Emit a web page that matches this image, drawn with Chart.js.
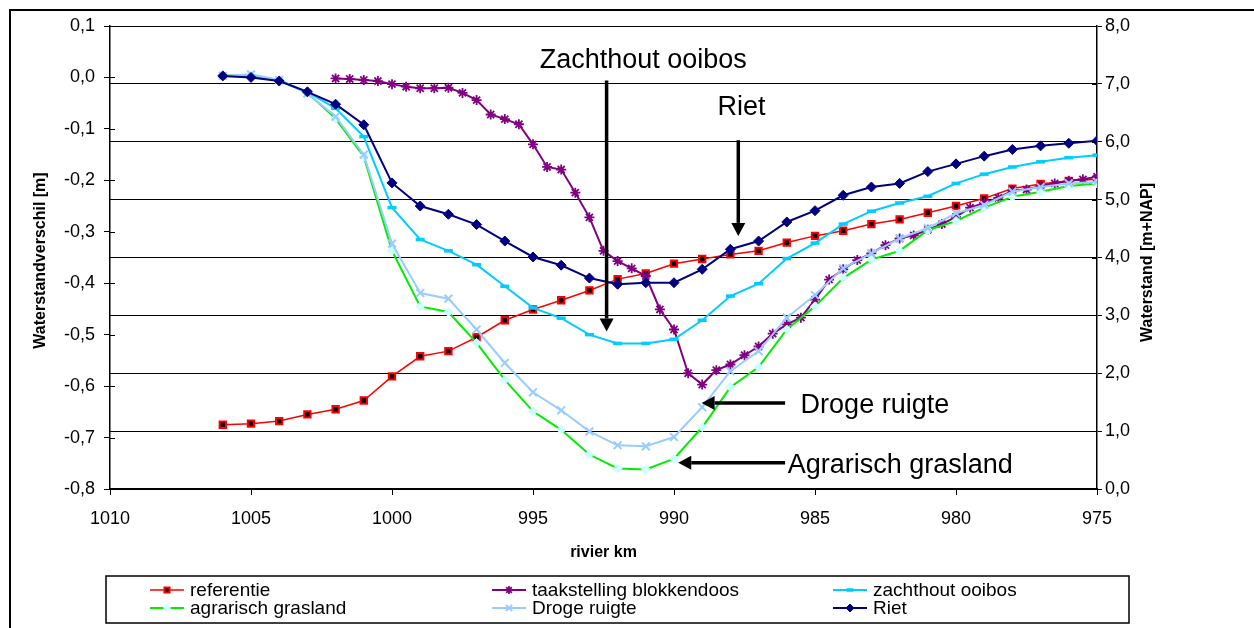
<!DOCTYPE html>
<html>
<head>
<meta charset="utf-8">
<script src="https://cdn.jsdelivr.net/npm/chart.js@4.4.1/dist/chart.umd.min.js"></script>
<style>
  html, body { margin: 0; padding: 0; background: #fff; }
</style>
</head>
<body>
<canvas id="waterChart" width="1254" height="628"></canvas>
<script>
const FONT = "'Liberation Sans', Arial, sans-serif";

// rivier km (whole km) and half-km steps for taakstelling
const kmSteps = [1006, 1005, 1004, 1003, 1002, 1001, 1000, 999, 998, 997, 996, 995, 994, 993, 992, 991,
  990, 989, 988, 987, 986, 985, 984, 983, 982, 981, 980, 979, 978, 977, 976, 975];
const kmHalf = [1002, 1001.5, 1001, 1000.5, 1000, 999.5, 999, 998.5, 998, 997.5, 997, 996.5, 996, 995.5,
  995, 994.5, 994, 993.5, 993, 992.5, 992, 991.5, 991, 990.5, 990, 989.5, 989, 988.5, 988, 987.5, 987,
  986.5, 986, 985.5, 985, 984.5, 984, 983.5, 983, 982.5, 982, 981.5, 981, 980.5, 980, 979.5, 979, 978.5,
  978, 977.5, 977, 976.5, 976, 975.5, 975];

const referentie = [-0.675, -0.673, -0.668, -0.655, -0.645, -0.628, -0.581, -0.542, -0.532,
  -0.505, -0.472, -0.451, -0.433, -0.414, -0.392, -0.381, -0.362, -0.353, -0.344, -0.337,
  -0.321, -0.308, -0.298, -0.285, -0.276, -0.263, -0.250, -0.235, -0.216, -0.207, -0.201, -0.198];
const taakstelling = [-0.002, -0.003, -0.005, -0.007, -0.013, -0.018, -0.021, -0.021, -0.020, -0.030,
  -0.044, -0.072, -0.081, -0.091, -0.130, -0.174, -0.179, -0.224, -0.272, -0.337, -0.357, -0.371,
  -0.386, -0.451, -0.490, -0.575, -0.597, -0.569, -0.558, -0.540, -0.523, -0.498, -0.480, -0.467,
  -0.432, -0.393, -0.373, -0.355, -0.342, -0.326, -0.313, -0.307, -0.296, -0.285, -0.271, -0.253,
  -0.244, -0.234, -0.220, -0.218, -0.211, -0.206, -0.201, -0.198, -0.193];
const zachthout = [0.003, 0.002, -0.006, -0.028, -0.060, -0.115, -0.253, -0.315, -0.337,
  -0.364, -0.406, -0.448, -0.468, -0.500, -0.517, -0.517, -0.509, -0.472, -0.425, -0.401,
  -0.352, -0.322, -0.285, -0.260, -0.244, -0.231, -0.206, -0.188, -0.174, -0.164, -0.156, -0.151];
const agrarisch = [0.004, 0.004, -0.005, -0.030, -0.080, -0.154, -0.337, -0.445, -0.456,
  -0.516, -0.588, -0.649, -0.685, -0.733, -0.760, -0.762, -0.741, -0.680, -0.602, -0.563,
  -0.490, -0.445, -0.390, -0.354, -0.337, -0.297, -0.279, -0.253, -0.232, -0.222, -0.211, -0.206];
const drogeRuigte = [0.003, 0.006, -0.005, -0.031, -0.076, -0.150, -0.323, -0.419, -0.430,
  -0.490, -0.555, -0.612, -0.647, -0.688, -0.715, -0.717, -0.699, -0.641, -0.571, -0.532,
  -0.467, -0.423, -0.371, -0.342, -0.313, -0.293, -0.264, -0.248, -0.222, -0.213, -0.206, -0.203];
const riet = [0.003, 0.000, -0.007, -0.028, -0.052, -0.092, -0.205, -0.250, -0.266,
  -0.286, -0.318, -0.349, -0.365, -0.390, -0.402, -0.399, -0.399, -0.373, -0.334, -0.318,
  -0.281, -0.259, -0.229, -0.213, -0.206, -0.183, -0.168, -0.153, -0.140, -0.133, -0.128, -0.123];

// annotations in data units (km, waterstandverschil)
const noteTexts = [
  { text: 'Zachthout ooibos', km: 991.09, value: 0.019, align: 'center' },
  { text: 'Riet', km: 987.61, value: -0.073, align: 'center' },
  { text: 'Droge ruigte', km: 985.51, value: -0.652, align: 'left' },
  { text: 'Agrarisch grasland', km: 985.97, value: -0.768, align: 'left' }
];
const noteArrows = [
  { fromKm: 992.39, fromValue: -0.006, toKm: 992.39, toValue: -0.494 },
  { fromKm: 987.72, fromValue: -0.122, toKm: 987.72, toValue: -0.308 },
  { fromKm: 986.06, fromValue: -0.633, toKm: 989.02, toValue: -0.633 },
  { fromKm: 986.06, fromValue: -0.749, toKm: 989.85, toValue: -0.749 }
];

function pts(xs, ys) {
  return xs.map((x, i) => ({ x: x, y: ys[i] }));
}

const comma = v => Number(v).toFixed(1).replace('.', ',');

function drawMarker(ctx, ds, x, y, scale) {
  const opts = {
    pointStyle: ds.pointStyle,
    rotation: 0,
    radius: ds.pointRadius * scale,
    borderWidth: ds.pointBorderWidth
  };
  ctx.save();
  ctx.fillStyle = ds.pointBackgroundColor || ds.borderColor;
  ctx.strokeStyle = ds.pointBorderColor || ds.borderColor;
  ctx.lineWidth = ds.pointBorderWidth;
  Chart.helpers.drawPoint(ctx, opts, x, y);
  ctx.restore();
}

const extrasPlugin = {
  id: 'extras',
  afterDraw(chart) {
    const ctx = chart.ctx;
    const area = chart.chartArea;
    const xs = chart.scales.x;
    const ys = chart.scales.y;

    ctx.save();
    // outer frame
    ctx.strokeStyle = '#000';
    ctx.lineWidth = 2;
    ctx.strokeRect(10, 10, 1400, 800);

    // inner half of the crossing tick marks
    ctx.lineWidth = 1.2;
    ctx.beginPath();
    ys.ticks.forEach(t => {
      const py = Math.round(ys.getPixelForValue(t.value)) + 0.5;
      ctx.moveTo(area.left, py);
      ctx.lineTo(area.left + 5, py);
    });
    chart.scales.y1.ticks.forEach(t => {
      const py = Math.round(chart.scales.y1.getPixelForValue(t.value)) + 0.5;
      ctx.moveTo(area.right, py);
      ctx.lineTo(area.right - 5, py);
    });
    ctx.stroke();

    // axis titles
    ctx.fillStyle = '#000';
    ctx.font = 'bold 16px ' + FONT;
    ctx.textAlign = 'center';
    ctx.textBaseline = 'middle';
    const midY = (area.top + area.bottom) / 2;
    ctx.save();
    ctx.translate(area.left - 69, midY + 3);
    ctx.rotate(-Math.PI / 2);
    ctx.fillText('Waterstandverschil [m]', 0, 0);
    ctx.restore();
    ctx.save();
    ctx.translate(area.right + 51, midY + 5);
    ctx.rotate(-Math.PI / 2);
    ctx.fillText('Waterstand [m+NAP]', 0, 0);
    ctx.restore();
    ctx.fillText('rivier km', (area.left + area.right) / 2, area.bottom + 64);

    // annotations
    ctx.font = '27px ' + FONT;
    ctx.textBaseline = 'alphabetic';
    noteTexts.forEach(n => {
      ctx.textAlign = n.align;
      ctx.fillText(n.text, xs.getPixelForValue(n.km), ys.getPixelForValue(n.value));
    });
    noteArrows.forEach(a => {
      const x0 = xs.getPixelForValue(a.fromKm), y0 = ys.getPixelForValue(a.fromValue);
      const x1 = xs.getPixelForValue(a.toKm), y1 = ys.getPixelForValue(a.toValue);
      const len = Math.hypot(x1 - x0, y1 - y0);
      const ux = (x1 - x0) / len, uy = (y1 - y0) / len;
      const head = 13, half = 7;
      ctx.strokeStyle = '#000';
      ctx.lineWidth = 3.5;
      ctx.beginPath();
      ctx.moveTo(x0, y0);
      ctx.lineTo(x1 - ux * head, y1 - uy * head);
      ctx.stroke();
      ctx.beginPath();
      ctx.moveTo(x1, y1);
      ctx.lineTo(x1 - ux * head - uy * half, y1 - uy * head + ux * half);
      ctx.lineTo(x1 - ux * head + uy * half, y1 - uy * head - ux * half);
      ctx.closePath();
      ctx.fill();
    });

    // legend box
    const box = { left: 106, top: 576, right: 1129, bottom: 623 };
    ctx.lineWidth = 1.5;
    ctx.strokeStyle = '#000';
    ctx.strokeRect(box.left, box.top, box.right - box.left, box.bottom - box.top);
    const cols = [150, 492, 833];
    const rows = [590, 608];
    ctx.font = '19px ' + FONT;
    ctx.textAlign = 'left';
    ctx.textBaseline = 'middle';
    chart.data.datasets.forEach((ds, i) => {
      const lx = cols[i % 3];
      const ly = rows[Math.floor(i / 3)];
      ctx.strokeStyle = ds.borderColor;
      ctx.lineWidth = ds.borderWidth;
      ctx.beginPath();
      ctx.moveTo(lx, ly);
      ctx.lineTo(lx + 34, ly);
      ctx.stroke();
      drawMarker(ctx, ds, lx + 17, ly, 0.8);
      ctx.fillStyle = '#000';
      ctx.fillText(ds.label, lx + 40, ly + 1);
    });
    ctx.restore();
  }
};

new Chart(document.getElementById('waterChart'), {
  type: 'line',
  data: {
    datasets: [
      {
        label: 'referentie',
        data: pts(kmSteps, referentie),
        borderColor: '#FF0000',
        borderWidth: 1.5,
        pointStyle: 'rect',
        pointRadius: 4.5,
        pointBackgroundColor: '#000000',
        pointBorderColor: '#FF0000',
        pointBorderWidth: 2,
        order: 6
      },
      {
        label: 'taakstelling blokkendoos',
        data: pts(kmHalf, taakstelling),
        borderColor: '#800080',
        borderWidth: 2,
        pointStyle: 'star',
        pointRadius: 5,
        pointBackgroundColor: '#800080',
        pointBorderColor: '#800080',
        pointBorderWidth: 1.8,
        order: 5
      },
      {
        label: 'zachthout ooibos',
        data: pts(kmSteps, zachthout),
        borderColor: '#00CCFF',
        borderWidth: 2,
        pointStyle: 'line',
        pointRadius: 4.5,
        pointBackgroundColor: '#00CCFF',
        pointBorderColor: '#00CCFF',
        pointBorderWidth: 3.5,
        order: 4
      },
      {
        label: 'agrarisch grasland',
        data: pts(kmSteps, agrarisch),
        borderColor: '#00EE00',
        borderWidth: 2,
        pointStyle: 'rectRot',
        pointRadius: 4.5,
        pointBackgroundColor: '#CCFFFF',
        pointBorderColor: '#CCFFFF',
        pointBorderWidth: 1,
        order: 3
      },
      {
        label: 'Droge ruigte',
        data: pts(kmSteps, drogeRuigte),
        borderColor: '#99CCFF',
        borderWidth: 2,
        pointStyle: 'crossRot',
        pointRadius: 5.5,
        pointBackgroundColor: '#99CCFF',
        pointBorderColor: '#99CCFF',
        pointBorderWidth: 2,
        order: 2
      },
      {
        label: 'Riet',
        data: pts(kmSteps, riet),
        borderColor: '#000080',
        borderWidth: 2,
        pointStyle: 'rectRot',
        pointRadius: 5,
        pointBackgroundColor: '#000080',
        pointBorderColor: '#000080',
        pointBorderWidth: 1,
        order: 1
      }
    ]
  },
  options: {
    responsive: false,
    animation: false,
    layout: {
      padding: { left: 10, right: 0, top: 26, bottom: 0 }
    },
    elements: {
      line: { tension: 0 }
    },
    plugins: {
      legend: { display: false },
      tooltip: { enabled: false }
    },
    scales: {
      x: {
        type: 'linear',
        reverse: true,
        min: 975,
        max: 1010,
        afterFit: s => { s.height = 139; },
        ticks: {
          stepSize: 5,
          padding: 13,
          color: '#000',
          maxRotation: 0,
          font: { family: FONT, size: 18 },
          callback: v => String(v)
        },
        grid: { drawOnChartArea: false, color: '#000', tickLength: 6 },
        border: { color: '#000', width: 1.5 }
      },
      y: {
        position: 'left',
        min: -0.8,
        max: 0.1,
        afterFit: s => { s.width = 100; },
        ticks: {
          stepSize: 0.1,
          padding: 9,
          color: '#000',
          font: { family: FONT, size: 18 },
          callback: comma
        },
        grid: { drawOnChartArea: false, color: '#000', tickLength: 6 },
        border: { color: '#000', width: 1.5 }
      },
      y1: {
        position: 'right',
        min: 0,
        max: 8,
        afterFit: s => { s.width = 157; },
        ticks: {
          stepSize: 1,
          padding: 3,
          color: '#000',
          font: { family: FONT, size: 18 },
          callback: comma
        },
        grid: { color: '#000', lineWidth: 1, tickLength: 5 },
        border: { color: '#000', width: 1.5 }
      }
    }
  },
  plugins: [extrasPlugin]
});
</script>
</body>
</html>
